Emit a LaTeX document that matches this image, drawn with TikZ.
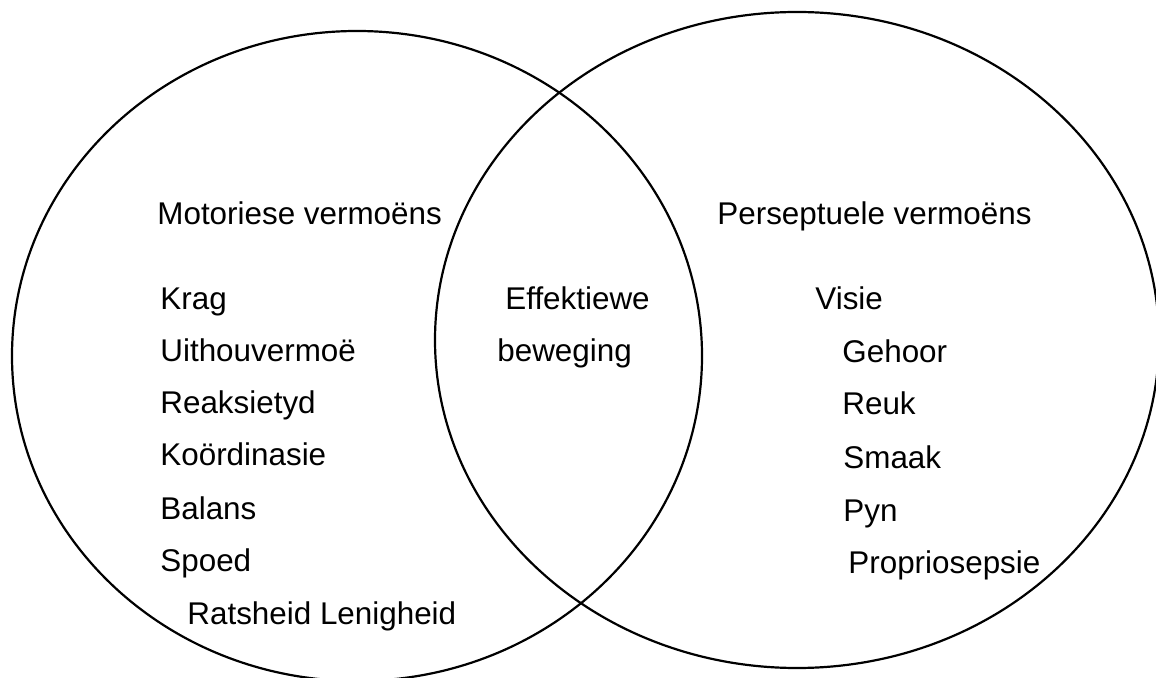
\documentclass[tikz,border=0pt]{standalone}
\usepackage{fontspec}
\setmainfont{Liberation Sans}
\begin{document}
\begin{tikzpicture}[x=0.5pt,y=-0.5pt,
  lbl/.style={anchor=base west,inner sep=0pt,font=\fontsize{15.7}{18}\selectfont},
  ring/.style={draw=black,line width=1.1pt}]
\useasboundingbox (0,0) rectangle (1156,678);
\clip (0,0) rectangle (1156,678);
\fill[white] (0,0) rectangle (1156,678);
\draw[ring] (357,356) ellipse [x radius=172.5pt, y radius=162.5pt];
\draw[ring] (797,340) ellipse [x radius=181pt, y radius=164pt];
% left set
\node[lbl] (mot) at (157,225) {Motoriese vermoëns};
\node[lbl] (krag) at (160,310) {Krag};
\node[lbl] (uit) at (160,362) {Uithouvermoë};
\node[lbl] (rea) at (160,414) {Reaksietyd};
\node[lbl] (koo) at (160,466) {Koördinasie};
\node[lbl] (bal) at (160,519) {Balans};
\node[lbl] (spo) at (160,571) {Spoed};
\node[lbl] (rat) at (187,624) {Ratsheid Lenigheid};
% intersection
\node[lbl] (eff) at (505,310) {Effektiewe};
\node[lbl] (bew) at (497,362) {beweging};
% right set
\node[lbl] (per) at (717,225) {Perseptuele vermoëns};
\node[lbl] (vis) at (815,310) {Visie};
\node[lbl] (geh) at (842,363) {Gehoor};
\node[lbl] (reu) at (842,415) {Reuk};
\node[lbl] (sma) at (843,468) {Smaak};
\node[lbl] (pyn) at (843,521) {Pyn};
\node[lbl] (pro) at (848,573) {Propriosepsie};
\end{tikzpicture}
\end{document}
